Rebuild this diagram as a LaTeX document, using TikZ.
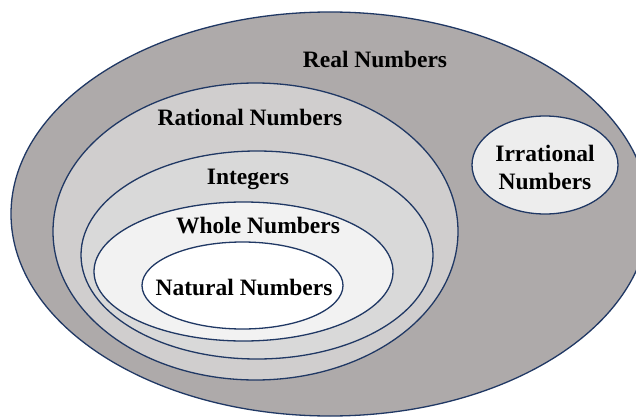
\documentclass[tikz,border=0pt]{standalone}
\usepackage{fontspec}
\setmainfont{Liberation Serif}
\usetikzlibrary{shapes.geometric}
\definecolor{realfill}{HTML}{AEAAAA}
\definecolor{ratfill}{HTML}{D0CECE}
\definecolor{intfill}{HTML}{D9D9D9}
\definecolor{wholefill}{HTML}{F2F2F2}
\definecolor{irrfill}{HTML}{EDEDED}
\definecolor{edge}{HTML}{203864}
\begin{document}
\begin{tikzpicture}[x=1pt,y=-1pt,
  set/.style={ellipse, draw=edge, line width=1.3pt, inner sep=0pt},
  lbl/.style={font=\bfseries\fontsize{23.5}{28}\selectfont, inner sep=0pt, align=center}]
\useasboundingbox (0,0) rectangle (636,417);
\fill[white] (0,0) rectangle (636,417);
\clip (0,0) rectangle (636,417);
\node[set, fill=realfill, minimum width=638pt, minimum height=404pt] (real) at (330,214) {};
\node[set, fill=ratfill, minimum width=405pt, minimum height=297pt] (rational) at (255.5,231.5) {};
\node[set, fill=intfill, minimum width=352pt, minimum height=208pt] (integers) at (257,255) {};
\node[set, fill=wholefill, minimum width=299pt, minimum height=139pt] (whole) at (243.5,271.5) {};
\node[set, fill=white, minimum width=201pt, minimum height=87pt] (natural) at (242.5,285.5) {};
\node[set, fill=irrfill, minimum width=146pt, minimum height=98pt] (irrational) at (545,165) {};
\node[lbl] (realtxt) at (375,59) {Real Numbers};
\node[lbl] (rattxt) at (250,117) {Rational Numbers};
\node[lbl] (inttxt) at (248,179) {Integers};
\node[lbl] (wholetxt) at (258,226) {Whole Numbers};
\node[lbl] (nattxt) at (244,287) {Natural Numbers};
\node[lbl] (irrtxt) at (545,167) {Irrational\\Numbers};
\end{tikzpicture}
\end{document}
